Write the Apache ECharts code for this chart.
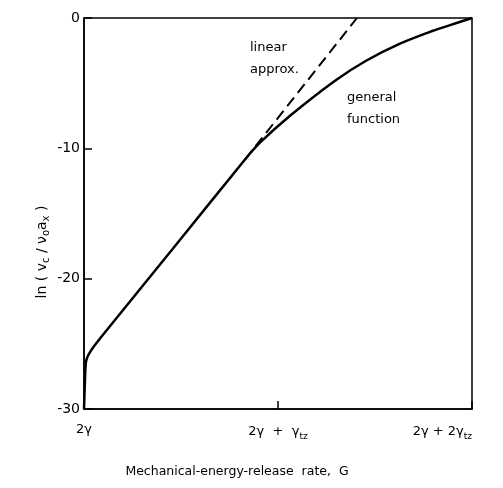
<!DOCTYPE html>
<html>
<head>
<meta charset="utf-8">
<script src="https://cdn.jsdelivr.net/npm/echarts@6/dist/echarts.min.js"></script>
<style>html,body{margin:0;padding:0;background:#fff}#c{width:503px;height:488px}</style>
</head>
<body>
<div id="c"></div>
<script>
const xTickValues = [0, 1, 2];
const xTickLabels = ['2γ', '2γ  +  γ{s|tz}', '2γ + 2γ{s|tz}'];
const yTickValues = [0, -10, -20, -30];
const generalX = [0, 0.005, 0.010, 0.021, 0.046, 0.098, 0.464, 0.830, 0.907, 1.062, 1.294, 1.454, 1.629, 1.799, 1.887, 2.0];
const generalY = [-30, -27.8, -26.4, -25.9, -25.3, -24.3, -17.59, -10.86, -9.57, -7.50, -4.81, -3.28, -1.97, -0.98, -0.55, 0];
const linearX = [0.830, 1.407];
const linearY = [-10.86, 0];

const FONT = 'DejaVu Sans';
const chart = echarts.init(document.getElementById('c'));
chart.setOption({
  animation: false,
  grid: {left: 84, right: 31, top: 18, bottom: 79, show: true, borderColor: '#000', borderWidth: 1.5},
  xAxis: {
    type: 'value', min: 0, max: 2, interval: 1,
    axisLine: {onZero: false, lineStyle: {color: '#000', width: 1.5}},
    axisTick: {inside: true, length: 8, lineStyle: {color: '#000', width: 1.5}},
    splitLine: {show: false},
    axisLabel: {
      margin: 14, color: '#000', fontFamily: FONT, fontSize: 13,
      alignMaxLabel: 'right',
      formatter: v => xTickLabels[xTickValues.indexOf(v)] || '',
      rich: {s: {fontSize: 9, fontFamily: FONT, color: '#000', padding: [9, 0, 0, 0]}}
    }
  },
  yAxis: {
    type: 'value', min: -30, max: 0, interval: 10,
    axisLine: {onZero: false, lineStyle: {color: '#000', width: 1.5}},
    axisTick: {inside: true, length: 8, lineStyle: {color: '#000', width: 1.5}},
    splitLine: {show: false},
    axisLabel: {margin: 4, color: '#000', fontFamily: FONT, fontSize: 14,
      formatter: v => yTickValues.indexOf(v) >= 0 ? String(v) : ''}
  },
  series: [
    {type: 'line', data: generalX.map((x, i) => [x, generalY[i]]), smooth: 0.3, showSymbol: false,
     lineStyle: {color: '#000', width: 2.5}},
    {type: 'line', data: linearX.map((x, i) => [x, linearY[i]]), showSymbol: false,
     lineStyle: {color: '#000', width: 2, type: [11, 6]}}
  ],
  graphic: [
    {type: 'text', left: 250, top: 37, style: {text: 'linear\napprox.', font: '13px ' + FONT, fill: '#000', lineHeight: 22}},
    {type: 'text', left: 347, top: 87, style: {text: 'general\nfunction', font: '13px ' + FONT, fill: '#000', lineHeight: 22}},
    {type: 'text', x: 237, y: 472, style: {text: 'Mechanical-energy-release  rate,  G', font: '12.5px ' + FONT, fill: '#000', align: 'center', verticalAlign: 'middle'}},
    {type: 'text', x: 42, y: 252, rotation: Math.PI / 2,
     style: {text: 'ln ( v{s|c} / ν{s|o}a{s|x} )', font: '14px ' + FONT, fill: '#000', align: 'center', verticalAlign: 'middle',
       rich: {s: {fontSize: 10, fontFamily: FONT, fill: '#000', padding: [8, 0, 0, 0]}}}}
  ]
});
</script>
</body>
</html>
